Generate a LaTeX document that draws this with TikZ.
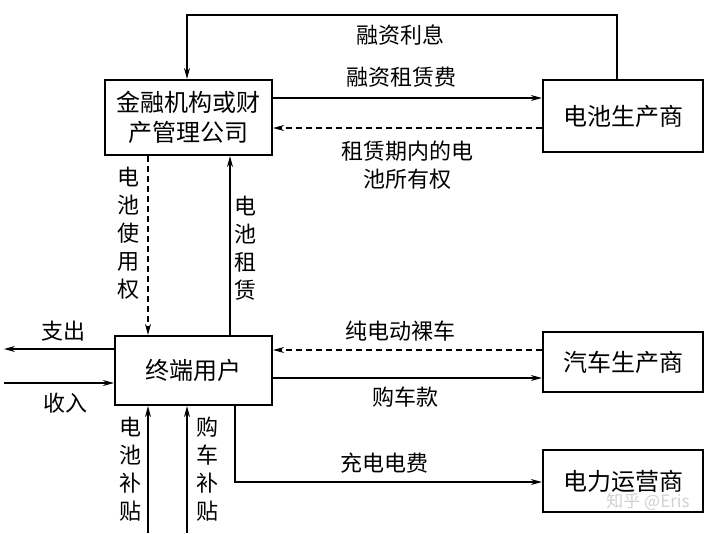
\documentclass[tikz,border=0pt]{standalone}
\usepackage{fontspec}
\newfontfamily\cjk{Noto Sans CJK SC}
\usetikzlibrary{arrows.meta}
\begin{document}
\begin{tikzpicture}[x=1pt,y=-1pt,
  box/.style={draw,line width=2.2pt,inner sep=0pt,font=\cjk\fontsize{24}{30}\selectfont,align=center},
  lbl/.style={font=\cjk\fontsize{22}{26}\selectfont,inner sep=0pt},
  vlbl/.style={font=\cjk\fontsize{22}{28}\selectfont,inner sep=0pt,align=center},
  conn/.style={line width=1.1pt,-{Stealth[length=11pt,width=6pt]}},
  dconn/.style={conn,dash pattern=on 6pt off 4pt}]
\useasboundingbox (0,0) rectangle (720,533);
% boxes
\node[box,minimum width=167pt,minimum height=75pt] (A) at (188.5,117.5) {金融机构或财\\产管理公司};
\node[box,minimum width=160pt,minimum height=72pt] (B) at (623,116) {电池生产商};
\node[box,minimum width=157pt,minimum height=69pt] (C) at (193.5,370.5) {终端用户};
\node[box,minimum width=160pt,minimum height=60pt] (D) at (623,362) {汽车生产商};
\node[box,minimum width=160pt,minimum height=62pt] (E) at (623,481) {电力运营商};
% coordinates
\coordinate (t1) at (617,15);
\coordinate (t2) at (187,15);
\coordinate (outL) at (4,349);
\coordinate (inL) at (4,383);
\coordinate (b1) at (148,533);
\coordinate (b2) at (187,533);
\coordinate (e1) at (235,482);
% top loop
\draw[conn] (B.north -| t1) -- (t1) -- (t2) -- (A.north -| t2);
\node[lbl] (l1) at (400,35) {融资利息};
% A <-> B
\draw[conn] (A.east |- 0,98) -- (B.west |- 0,98);
\node[lbl] (l2) at (401,77) {融资租赁费};
\draw[dconn] (B.west |- 0,128) -- (A.east |- 0,128);
\node[vlbl] (l3) at (407,165) {租赁期内的电\\池所有权};
% A <-> C
\draw[dconn] (A.south -| 148,0) -- (C.north -| 148,0);
\node[vlbl] (l4) at (128,233) {电\\池\\使\\用\\权};
\draw[conn] (C.north -| 230,0) -- (A.south -| 230,0);
\node[vlbl] (l5) at (245,248) {电\\池\\租\\赁};
% C left
\draw[conn] (C.west |- outL) -- (outL);
\node[lbl] (l6) at (63,331) {支出};
\draw[conn] (inL) -- (C.west |- inL);
\node[lbl] (l7) at (65,403) {收入};
% C <-> D
\draw[dconn] (D.west |- 0,350) -- (C.east |- 0,350);
\node[lbl] (l8) at (400,331) {纯电动裸车};
\draw[conn] (C.east |- 0,378) -- (D.west |- 0,378);
\node[lbl] (l9) at (405,397) {购车款};
% C -> E
\draw[conn] (C.south -| e1) -- (e1) -- (E.west |- e1);
\node[lbl] (l10) at (384,463) {充电电费};
% bottom subsidies
\draw[conn] (b1) -- (C.south -| b1);
\node[vlbl] (l11) at (130,469) {电\\池\\补\\贴};
\draw[conn] (b2) -- (C.south -| b2);
\node[vlbl] (l12) at (207,469) {购\\车\\补\\贴};
% watermark
\node[font=\cjk\fontsize{17}{20}\selectfont,text=black!18,inner sep=0pt] (wm) at (648,502) {知乎 @Eris};
\end{tikzpicture}
\end{document}
